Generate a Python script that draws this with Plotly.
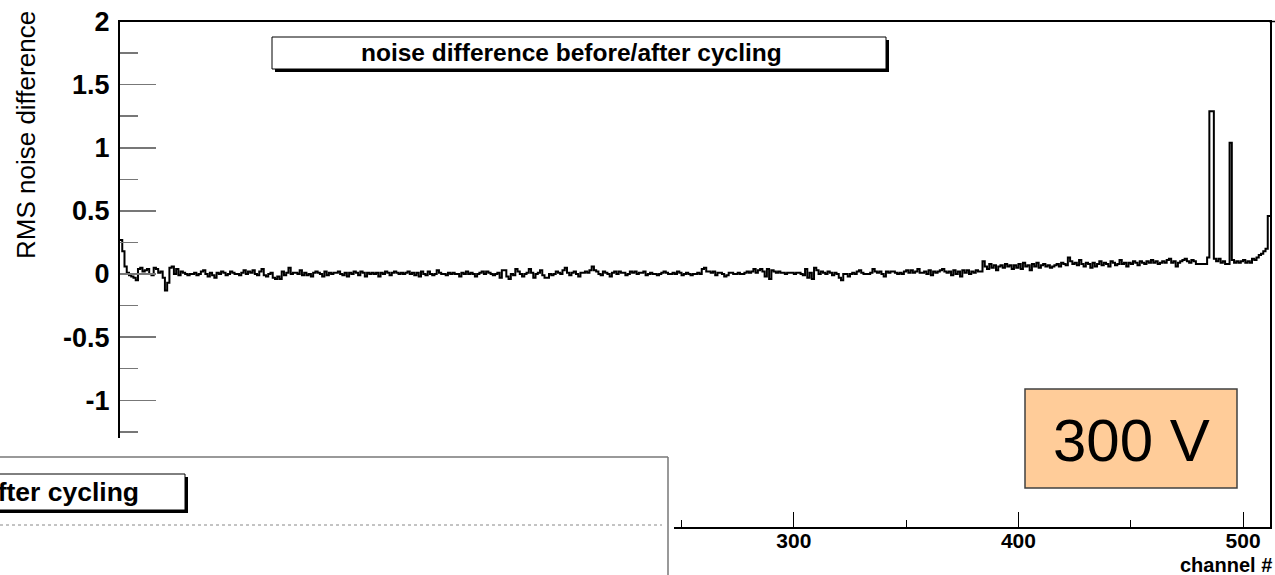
import plotly.graph_objects as go

# ---------------- data ----------------
channels = list(range(512))
rms_noise_diff = [
    0.27, 0.18, 0.06, 0.01, -0.01, -0.02, -0.03, -0.05, 0.04, 0.05, 0.02, 0.03, 0.04, 0.00, -0.01, 0.05,
    0.04, 0.01, 0.02, -0.03, -0.13, -0.07, 0.05, 0.06, 0.00, 0.04, -0.01, 0.02, 0.01, 0.00, -0.01, 0.00,
    0.00, 0.01, -0.01, 0.00, 0.02, 0.03, 0.00, -0.02, 0.01, -0.01, -0.03, 0.01, 0.00, 0.02, 0.01, -0.01,
    0.00, 0.02, 0.01, 0.00, 0.00, -0.01, 0.01, 0.03, 0.00, 0.02, 0.01, 0.03, 0.00, -0.01, 0.02, 0.04,
    -0.01, -0.02, 0.00, 0.01, -0.03, -0.04, -0.02, -0.04, 0.02, -0.01, 0.01, 0.05, 0.00, 0.01, 0.01, 0.00,
    0.03, -0.01, 0.01, -0.01, 0.00, -0.02, 0.01, 0.02, 0.01, 0.00, -0.02, 0.02, -0.01, 0.01, 0.00, 0.01,
    0.01, 0.02, 0.00, -0.01, 0.01, -0.02, 0.01, 0.00, 0.02, 0.01, -0.01, 0.02, 0.01, -0.02, 0.01, 0.00,
    0.01, 0.00, 0.01, -0.02, 0.01, 0.00, 0.02, 0.01, -0.01, 0.01, 0.02, 0.01, 0.00, 0.01, 0.00, 0.01,
    0.02, 0.00, 0.01, -0.01, 0.01, -0.02, 0.02, 0.00, -0.01, 0.02, 0.00, -0.01, 0.00, 0.03, 0.01, 0.00,
    0.00, -0.01, 0.01, 0.00, 0.01, 0.00, 0.00, -0.02, 0.01, 0.00, 0.02, 0.00, 0.01, 0.00, -0.02, 0.00,
    0.01, 0.02, 0.00, 0.02, 0.01, 0.00, -0.01, 0.00, 0.01, -0.03, 0.03, 0.03, -0.02, -0.04, 0.00, -0.01,
    0.04, 0.02, 0.00, -0.02, 0.00, 0.01, 0.04, 0.01, -0.03, 0.00, 0.01, 0.03, -0.01, -0.03, -0.03, 0.00,
    -0.01, 0.00, 0.02, 0.01, 0.00, 0.03, 0.05, 0.01, -0.01, 0.01, 0.02, 0.00, -0.02, 0.01, 0.01, 0.02,
    0.01, 0.03, 0.06, 0.03, 0.02, 0.00, -0.01, 0.02, 0.01, 0.00, -0.02, 0.01, 0.02, 0.00, 0.02, 0.01,
    0.01, -0.01, 0.00, 0.02, 0.01, 0.02, 0.00, 0.01, 0.01, 0.02, -0.01, 0.00, 0.01, 0.00, 0.00, -0.01,
    0.00, 0.01, 0.02, 0.01, 0.00, 0.00, 0.01, 0.00, 0.02, 0.01, -0.01, 0.00, 0.01, 0.00, -0.01, 0.00,
    0.00, 0.01, 0.00, 0.04, 0.05, 0.02, 0.02, 0.01, 0.02, -0.01, 0.01, 0.01, 0.00, -0.02, -0.01, 0.01,
    0.01, 0.00, 0.00, 0.01, 0.00, 0.00, 0.01, 0.02, 0.01, 0.02, 0.04, 0.01, 0.03, 0.04, 0.02, -0.02,
    0.04, -0.04, 0.03, 0.02, 0.01, 0.02, 0.01, 0.01, 0.00, 0.01, 0.01, 0.01, 0.00, 0.01, 0.01, 0.00,
    -0.01, 0.04, -0.03, 0.01, -0.04, 0.05, 0.03, 0.00, 0.02, 0.01, 0.00, 0.02, 0.01, -0.01, 0.01, 0.00,
    -0.03, -0.05, 0.00, 0.00, -0.02, 0.00, 0.01, 0.00, 0.02, 0.03, 0.01, 0.00, 0.00, 0.00, 0.01, 0.04,
    0.02, 0.01, 0.02, 0.00, -0.02, 0.02, 0.01, 0.02, 0.02, 0.01, 0.00, 0.01, 0.00, 0.02, 0.03, 0.01,
    0.03, 0.01, 0.02, 0.04, 0.01, 0.01, 0.02, 0.00, 0.03, -0.01, 0.02, 0.01, 0.02, 0.03, 0.04, 0.02,
    0.01, 0.02, -0.01, 0.03, 0.00, 0.02, -0.02, 0.03, 0.01, 0.03, 0.00, 0.02, 0.01, 0.03, 0.02, 0.02,
    0.10, 0.06, 0.04, 0.08, 0.05, 0.07, 0.03, 0.06, 0.07, 0.05, 0.08, 0.06, 0.07, 0.04, 0.07, 0.05,
    0.08, 0.04, 0.09, 0.06, 0.07, 0.03, 0.08, 0.06, 0.09, 0.05, 0.07, 0.08, 0.06, 0.07, 0.05, 0.06,
    0.07, 0.08, 0.06, 0.09, 0.08, 0.07, 0.13, 0.10, 0.08, 0.09, 0.07, 0.11, 0.08, 0.06, 0.09, 0.08,
    0.05, 0.09, 0.06, 0.08, 0.10, 0.07, 0.09, 0.08, 0.06, 0.10, 0.09, 0.07, 0.08, 0.11, 0.08, 0.09,
    0.06, 0.09, 0.08, 0.10, 0.09, 0.07, 0.10, 0.09, 0.08, 0.10, 0.09, 0.11, 0.09, 0.10, 0.08, 0.09,
    0.10, 0.09, 0.11, 0.12, 0.09, 0.10, 0.06, 0.09, 0.10, 0.11, 0.12, 0.10, 0.09, 0.11, 0.10, 0.08,
    0.08, 0.08, 0.08, 0.08, 0.13, 1.29, 1.29, 0.12, 0.10, 0.12, 0.09, 0.10, 0.08, 0.08, 1.04, 0.11,
    0.09, 0.10, 0.09, 0.10, 0.11, 0.09, 0.10, 0.09, 0.12, 0.11, 0.13, 0.15, 0.16, 0.18, 0.20, 0.46,
]
y_tickvals = [-2, -1.5, -1, -0.5, 0, 0.5, 1, 1.5, 2]
y_ticktext = ["-2", "-1.5", "-1", "-0.5", "0", "0.5", "1", "1.5", "2"]
x_tickvals = [0, 100, 200, 300, 400, 500]
x_ticktext = ["0", "100", "200", "300", "400", "500"]

title_text = "noise difference before/after cycling"
voltage_text = "300 V"
y_title = "RMS noise difference"
x_title = "channel #"

# ---------------- layout helpers (pixel -> paper) ----------------
W, H = 1275, 575
FONT = "Liberation Sans, Arial, sans-serif"


def px(x):
    return x / W


def py(y):
    return 1 - y / H


# step histogram edges built from the data
edges = channels + [channels[-1] + 1]
step_y = rms_noise_diff + [rms_noise_diff[-1]]

fig = go.Figure()
fig.add_trace(go.Scatter(
    x=edges, y=step_y, mode="lines", line=dict(shape="hv", color="black", width=2),
    showlegend=False, hoverinfo="skip", cliponaxis=True,
))
# invisible companion trace so the label-only axis (x2) is drawn
fig.add_trace(go.Scatter(
    x=[edges[0], edges[-1]], y=[0, 0], xaxis="x2", yaxis="y", mode="lines",
    line=dict(width=0, color="rgba(0,0,0,0)"), showlegend=False, hoverinfo="skip",
))

shapes = []
# cover (lower-left overlapping pad)
shapes.append(dict(type="rect", xref="paper", yref="paper", x0=px(-5), x1=px(674), y0=py(580), y1=py(438),
                   fillcolor="white", line=dict(width=0), layer="above"))
shapes.append(dict(type="line", xref="paper", yref="paper", x0=px(0), x1=px(668), y0=py(457), y1=py(457),
                   line=dict(color="#777777", width=1.5), layer="above"))
shapes.append(dict(type="line", xref="paper", yref="paper", x0=px(668), x1=px(668), y0=py(457), y1=py(580),
                   line=dict(color="#777777", width=1.5), layer="above"))
shapes.append(dict(type="line", xref="paper", yref="paper", x0=px(0), x1=px(662), y0=py(525), y1=py(525),
                   line=dict(color="#888888", width=1, dash="dot"), layer="above"))
# lower pad title box (cut off)
shapes.append(dict(type="rect", xref="paper", yref="paper", x0=px(-60), x1=px(188), y0=py(513), y1=py(477),
                   fillcolor="black", line=dict(width=0), layer="above"))
shapes.append(dict(type="rect", xref="paper", yref="paper", x0=px(-60), x1=px(185), y0=py(510), y1=py(474),
                   fillcolor="white", line=dict(color="black", width=1), layer="above"))
# top title box
shapes.append(dict(type="rect", xref="paper", yref="paper", x0=px(275), x1=px(889), y0=py(72), y1=py(40),
                   fillcolor="black", line=dict(width=0), layer="above"))
shapes.append(dict(type="rect", xref="paper", yref="paper", x0=px(272), x1=px(886), y0=py(69), y1=py(37),
                   fillcolor="white", line=dict(color="black", width=1), layer="above"))
# 300 V box
shapes.append(dict(type="rect", xref="paper", yref="paper", x0=px(1025), x1=px(1237), y0=py(488), y1=py(389),
                   fillcolor="#FFCC99", line=dict(color="#404040", width=1.5), layer="above"))
# top frame line extension to the right edge
shapes.append(dict(type="line", xref="paper", yref="paper", x0=px(1269), x1=px(1275), y0=py(21.5), y1=py(21.5),
                   line=dict(color="black", width=1.5), layer="above"))

annotations = [
    dict(xref="paper", yref="paper", x=px(571), y=py(53), text="<b>" + title_text + "</b>",
         showarrow=False, xanchor="center", yanchor="middle", font=dict(family=FONT, size=24.5, color="black")),
    dict(xref="paper", yref="paper", x=px(141), y=py(492), text="<b>" + title_text + "</b>",
         showarrow=False, xanchor="right", yanchor="middle", font=dict(family=FONT, size=26.5, color="black")),
    dict(xref="paper", yref="paper", x=px(1131), y=py(440), text=voltage_text,
         showarrow=False, xanchor="center", yanchor="middle", font=dict(family=FONT, size=60, color="black")),
    dict(xref="paper", yref="paper", x=px(26), y=py(135), text=y_title, textangle=-90,
         showarrow=False, xanchor="center", yanchor="middle", font=dict(family=FONT, size=26, color="black")),
    dict(xref="paper", yref="paper", x=px(1274), y=py(565), text="<b>" + x_title + "</b>",
         showarrow=False, xanchor="right", yanchor="middle", font=dict(family=FONT, size=20, color="black")),
]

fig.update_layout(
    width=W, height=H,
    margin=dict(l=0, r=0, t=0, b=0, pad=0, autoexpand=False),
    paper_bgcolor="white", plot_bgcolor="white",
    showlegend=False,
    shapes=shapes,
    annotations=annotations,
    xaxis=dict(
        domain=[px(120), px(1270)], range=[0, 512], automargin=False,
        showgrid=False, zeroline=False,
        showline=True, linecolor="black", linewidth=2, mirror=True,
        ticks="inside", ticklen=15, tickwidth=1, tickcolor="black",
        tickmode="array", tickvals=x_tickvals, showticklabels=False,
        minor=dict(tickmode="linear", tick0=0, dtick=50, ticks="inside", ticklen=7, tickcolor="black", tickwidth=1),
    ),
    xaxis2=dict(
        domain=[px(120), px(1270)], range=[0, 512], automargin=False,
        overlaying="x", anchor="free", position=py(526), side="bottom",
        showgrid=False, zeroline=False, showline=False, ticks="",
        tickmode="array", tickvals=x_tickvals, ticktext=x_ticktext,
        tickfont=dict(family=FONT, size=21, color="black", weight="bold"),
    ),
    yaxis=dict(
        domain=[py(526.5), py(21.5)], range=[-2, 2], automargin=False,
        showgrid=False, zeroline=False,
        showline=True, linecolor="black", linewidth=2, mirror=True,
        ticks="inside", ticklen=36, tickwidth=1.5, tickcolor="#777777",
        tickmode="array", tickvals=y_tickvals, ticktext=y_ticktext,
        minor=dict(tickmode="linear", tick0=0, dtick=0.25, ticks="inside", ticklen=18, tickcolor="#777777", tickwidth=1.5),
        tickfont=dict(family=FONT, size=27, color="black", weight="bold"),
        ticklabelstandoff=3,
    ),
)

fig.write_html(
    "out.html",
    config={"displayModeBar": False, "staticPlot": True},
    post_script="document.body.style.margin='0';document.body.style.overflow='hidden';",
)
